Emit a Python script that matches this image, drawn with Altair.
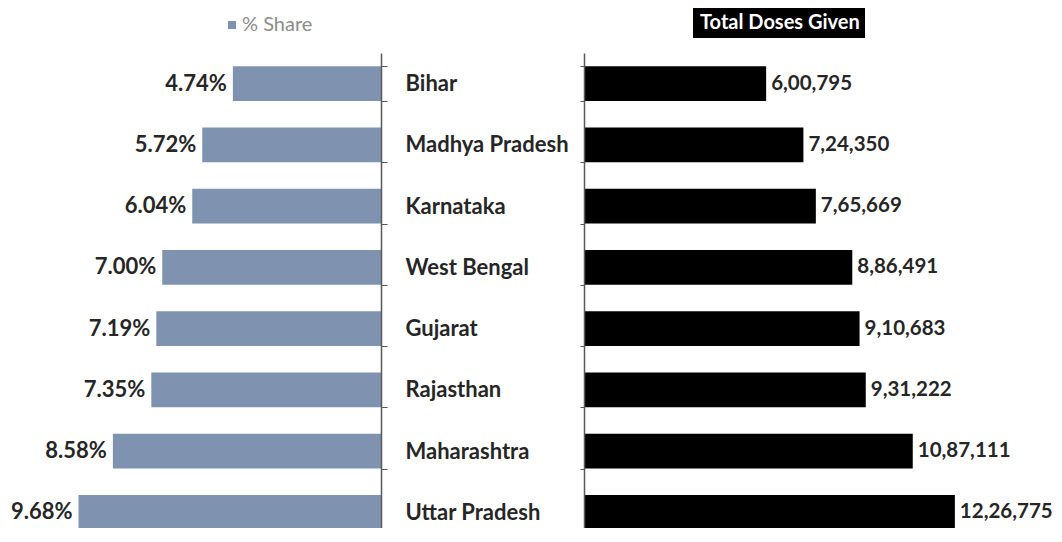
import altair as alt
import pandas as pd

states = ["Bihar", "Madhya Pradesh", "Karnataka", "West Bengal",
          "Gujarat", "Rajasthan", "Maharashtra", "Uttar Pradesh"]
share = [4.74, 5.72, 6.04, 7.00, 7.19, 7.35, 8.58, 9.68]
share_labels = ["4.74%", "5.72%", "6.04%", "7.00%", "7.19%", "7.35%", "8.58%", "9.68%"]
doses = [600795, 724350, 765669, 886491, 910683, 931222, 1087111, 1226775]
dose_labels = ["6,00,795", "7,24,350", "7,65,669", "8,86,491",
               "9,10,683", "9,31,222", "10,87,111", "12,26,775"]
series = ["% Share", "Total Doses Given"]

df = pd.DataFrame({"state": states, "share": share, "share_label": share_labels,
                   "doses": doses, "dose_label": dose_labels,
                   "s_left": series[0], "s_right": series[1]})

W, H = 1046, 475
FONT = "Lato"
FS = 22
TXT = "#262626"
AXC = "#595959"
BLUE = "#7f93b1"

yscale = alt.Scale(paddingInner=0.43, paddingOuter=0.215, range=[0, 490])
left_x = alt.Scale(domain=[0, 10], range=[373, 60.5], nice=False, zero=True)
right_x = alt.Scale(domain=[0, 1000000], range=[577, 878.5], nice=False, zero=True)

left_axis = alt.Axis(orient="right", offset=373 - W, title=None, tickBand="extent",
                     tickSize=6, tickColor=AXC, domainColor=AXC, domainWidth=1.5,
                     labelPadding=18, labelFont=FONT, labelFontSize=FS,
                     labelFontWeight="bold", labelColor=TXT, labelAlign="left",
                     labelBaseline="middle", grid=False, labelLimit=400, zindex=1)
right_axis = alt.Axis(orient="left", offset=-576, title=None, tickBand="extent",
                      tickSize=4, tickColor=AXC, domainColor=AXC, domainWidth=1.5,
                      labels=False, grid=False, zindex=1)

base = alt.Chart(df)

left_bar = base.mark_bar().encode(
    y=alt.Y("state:N", sort=states, scale=yscale, axis=left_axis),
    x=alt.X("share:Q", scale=left_x, axis=None),
    color=alt.Color("s_left:N",
                    scale=alt.Scale(domain=[series[0]], range=[BLUE]),
                    legend=alt.Legend(title=None, orient="none", legendX=214, legendY=-38,
                                      symbolType="square", symbolSize=64,
                                      symbolStrokeWidth=0,
                                      labelFont=FONT, labelFontSize=20,
                                      labelColor="#8c8c8c", labelOffset=0)),
)
left_text = base.mark_text(align="right", baseline="middle", dx=-6, font=FONT,
                           fontSize=FS, fontWeight="bold", color=TXT).encode(
    y=alt.Y("state:N", sort=states, scale=yscale, axis=None),
    x=alt.X("share:Q", scale=left_x, axis=None),
    text="share_label:N",
)

right_bar = base.mark_bar().encode(
    y=alt.Y("state:N", sort=states, scale=yscale, axis=right_axis),
    x=alt.X("doses:Q", scale=right_x, axis=None),
    color=alt.Color("s_right:N",
                    scale=alt.Scale(domain=[series[1]], range=["#000000"]),
                    legend=alt.Legend(title=None, orient="none", legendX=685, legendY=-45,
                                      fillColor="#000000", padding=5,
                                      symbolSize=1, symbolOpacity=0,
                                      labelOffset={"expr": "-18"},
                                      labelFont=FONT, labelFontSize=20,
                                      labelFontWeight="bold", labelColor="#ffffff")),
)
right_text = base.mark_text(align="left", baseline="middle", dx=5, font=FONT,
                            fontSize=20.5, fontWeight="bold", color=TXT).encode(
    y=alt.Y("state:N", sort=states, scale=yscale, axis=None),
    x=alt.X("doses:Q", scale=right_x, axis=None),
    text="dose_label:N",
)

chart = alt.layer(left_bar, left_text, right_bar, right_text).resolve_scale(
    x="independent", color="independent"
).resolve_axis(y="independent").properties(
    width=W, height=H,
    autosize=alt.AutoSizeParams(type="none"),
    padding={"left": 0, "top": 45, "right": 0, "bottom": 0},
    background="white",
).configure_view(stroke=None)

chart.save("out.html", embed_options={"renderer": "svg", "actions": False})
